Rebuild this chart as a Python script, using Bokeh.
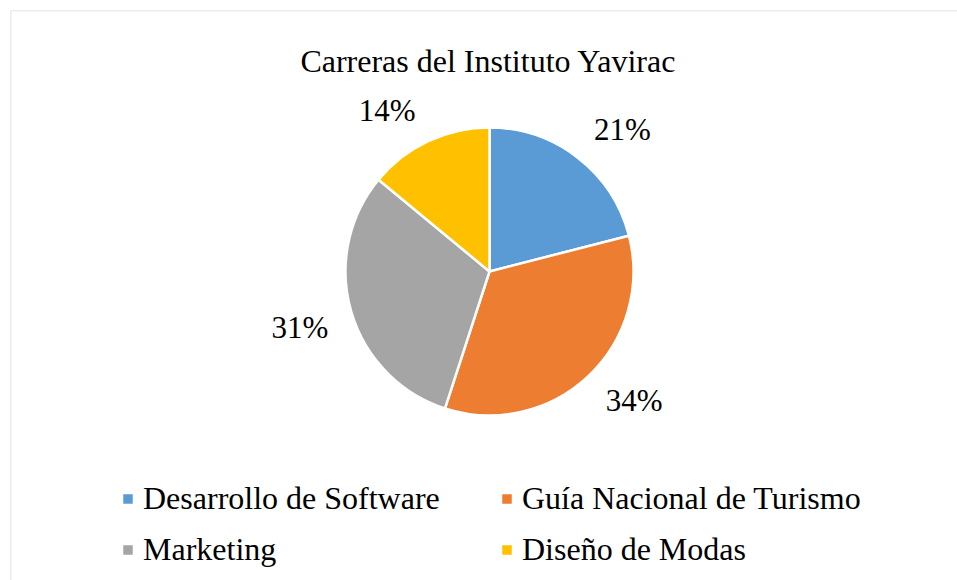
import numpy as np
from bokeh.plotting import figure
from bokeh.models import ColumnDataSource, Range1d, Legend, LegendItem, Label, LabelSet, Span
from bokeh.core.properties import value
from bokeh.embed import file_html
from bokeh.resources import INLINE

# ---- data ----
categories = ["Desarrollo de Software", "Guía Nacional de Turismo", "Marketing", "Diseño de Modas"]
percentages = [21, 34, 31, 14]
colors = ["#5B9BD5", "#ED7D31", "#A5A5A5", "#FFC000"]
title_text = "Carreras del Instituto Yavirac"

FONT = "'Liberation Serif', 'Times New Roman', serif"

# ---- geometry (style) ----
W, H = 957, 580
FW, FH = 947, 570
cx, cy, r = 479, 309, 144

vals = np.array(percentages, dtype=float)
frac = vals / vals.sum()
cum = np.concatenate([[0.0], np.cumsum(frac)])
start = np.pi / 2 - cum[:-1] * 2 * np.pi
end = np.pi / 2 - cum[1:] * 2 * np.pi
mid = (start + end) / 2

R_lab, hw, hh = 163, 33, 12
lx = cx + R_lab * np.cos(mid) + hw * np.sign(np.cos(mid))
ly = cy + R_lab * np.sin(mid) + hh * np.sign(np.sin(mid)) + 1.5

src = ColumnDataSource(dict(
    cat=categories, start=start, end=end, color=colors,
    lx=lx, ly=ly, txt=[f"{v:.0f}%" for v in vals],
))

p = figure(width=W, height=H, output_backend="svg", toolbar_location=None,
           x_range=Range1d(0, FW), y_range=Range1d(0, FH),
           x_axis_type=None, y_axis_type=None,
           min_border_left=10, min_border_top=10, min_border_right=0, min_border_bottom=0)
p.grid.visible = False
p.outline_line_color = None
p.background_fill_color = "white"
p.border_fill_color = "white"

# chart-area border (only top and left fall inside the window)
p.add_layout(Span(location=0, dimension="height", line_color="#D9D9D9", line_width=1.5))
p.add_layout(Span(location=FH, dimension="width", line_color="#D9D9D9", line_width=1.5))

w = p.wedge(x=cx, y=cy, radius=r, start_angle="start", end_angle="end",
            direction="clock", fill_color="color", line_color="white",
            line_width=2.5, source=src)

labels = LabelSet(x="lx", y="ly", text="txt", source=src,
                  text_font=value(FONT), text_font_size="31px",
                  text_align="center", text_baseline="middle", text_color="black")
p.add_layout(labels)

p.add_layout(Label(x=478, y=520, text=title_text, text_font=FONT,
                   text_font_size="32px", text_align="center",
                   text_baseline="alphabetic", text_color="black"))

items = [LegendItem(label=c, renderers=[w], index=i) for i, c in enumerate(categories)]
legend = Legend(items=items, location=(110, 12), orientation="horizontal", ncols=2,
                glyph_width=15, glyph_height=15, label_standoff=8, spacing=14,
                label_width=342, label_height=37,
                padding=0, margin=0, border_line_color=None, background_fill_alpha=0,
                label_text_font=FONT, label_text_font_size="32px",
                label_text_color="black")
p.add_layout(legend, "center")

open("out.html", "w").write(file_html(p, INLINE))
